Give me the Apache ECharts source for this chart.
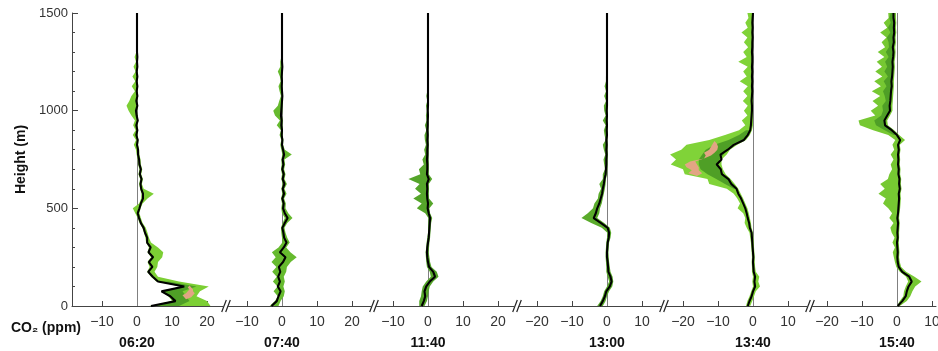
<!DOCTYPE html>
<html><head><meta charset="utf-8">
<script src="https://cdn.jsdelivr.net/npm/echarts@6/dist/echarts.min.js"></script>
<style>html,body{margin:0;padding:0;background:#fff}#c{width:938px;height:351px}</style>
</head><body><div id="c"></div>
<script>
// ---------------- DATA ----------------
const times = ['06:20', '07:40', '11:40', '13:00', '13:40', '15:40'];
const heights = [0,25,50,75,100,125,150,175,200,225,250,275,300,325,350,375,400,425,450,475,
  500,525,550,575,600,625,650,675,700,725,750,775,800,825,850,875,900,925,950,975,
  1000,1025,1050,1075,1100,1125,1150,1175,1200,1225,1250,1275,1300,1325,1350,1375,1400,1425,1450,1475,1500];
const yTicks = [0, 500, 1000, 1500];
const xTicks1 = [-10, 0, 10, 20];
const xTicks2 = [-10, 0, 10, 20];
const xTicks3 = [-10, 0, 10, 20];
const xTicks4 = [-20, -10, 0, 10];
const xTicks5 = [-20, -10, 0, 10];
const xTicks6 = [-20, -10, 0, 10];

// 06:20
const black1 = [4,11,9.5,7,13.5,6,4.5,3.2,4.4,3.4,4.6,3.3,3.9,2.9,2.9,2.3,1.9,1.1,0.6,0.2,
  0.7,1.1,1.7,1.7,1.2,1.0,1.3,0.8,1.1,0.7,0.6,0.3,0.3,0,0.2,-0.2,0.1,-0.2,0.2,-0.1,
  -0.3,0.1,-0.2,0.1,-0.1,0.1,-0.1,0.1,-0.1,0.1,0,0.1,0,0,0,0,0,0,0,0,0];
const lo1 = [3.5,10,9,6.8,12.5,5.5,4,2.9,3.6,3,4,3,3.4,2.6,2.4,2,1.5,0.7,0.2,-0.5,
  -1.2,0.6,1.2,1.3,0.9,0.6,0.9,0.4,0.7,0.3,0.2,-0.1,-0.3,-0.9,-0.3,-1.2,-0.4,-1.1,-0.6,-1.6,
  -2.4,-3,-2.2,-1.6,-0.6,-1.5,-0.5,-1.3,-0.4,-1,-0.3,-0.7,-0.2,0,0,0,0,0,0,0,0];
const hi1 = [21,20,17,18,20.5,12,6,5,5.8,6,7.2,7.5,6,4,3.4,3,2.5,1.6,1.1,0.7,
  1,1.6,3,4.8,1.9,1.4,1.7,1.2,1.5,1.1,1,0.7,0.6,0.3,0.4,0.1,0.3,0.1,0.4,0.1,
  0,0.3,0,0.3,0.1,0.3,0.1,0.3,0.1,0.3,0.2,0.3,0.1,0,0,0,0,0,0,0,0];
const inH1 = [0,25,50,75,100,125];
const inLo1 = [4,10.5,9.5,7.2,13,6];
const inHi1 = [12,15,14,13,17,9];
const pinkH1 = [35,45,55,65,75,85,95,105];
const pinkLo1 = [14,13.5,13,14,14.5,15,14.5,15];
const pinkHi1 = [14,15.5,16,16.5,16,16,15.5,15];

// 07:40
const black2 = [-3,-1.5,-1,-0.4,-1.2,-0.6,-1.1,-0.5,-0.9,0.3,1,-0.6,0.5,1.3,0.6,0.4,0.1,0.8,1.6,0.8,
  0.3,0.5,0.1,0.6,0.2,0.7,0.2,0.5,0.1,0.4,0.2,0.6,0.3,0,0.1,-0.1,0,-0.2,-0.1,-0.3,
  -0.2,-0.1,0,0.1,0,-0.1,0,-0.1,0,0.1,0,0,0,0,0,0,0,0,0,0,0];
const lo2 = [-3.5,-2,-1.2,-2.4,-1.3,-2.6,-1.5,-2.8,-1.6,-3,-1.8,-2.9,-1,0.1,0,-0.2,-0.3,0.2,0.8,0,
  -0.2,0,-0.3,0.1,-0.2,0.2,-0.2,0,-0.3,-0.1,-0.2,0.1,-0.2,-0.5,-0.2,-0.7,-0.3,-1.5,-0.6,-2,
  -2.5,-1.2,-0.8,-0.3,-0.7,-1,-0.4,-0.6,-1.2,-0.5,-0.5,-0.2,0,0,0,0,0,0,0,0,0];
const hi2 = [-1,-0.4,0.5,0.8,0.4,0.8,0.5,1.2,1.4,2.5,4.2,2.4,1.2,2.2,1.5,1,0.7,1.5,3,1.8,
  1,1.1,0.6,1.3,0.7,1.4,0.7,1,0.6,0.9,0.7,2.8,0.8,0.3,0.4,0.2,0.3,0.1,0.2,0,
  0.1,0.2,0.3,0.3,0.2,0.1,0.2,0.1,0.2,0.2,0.1,0.1,0,0,0,0,0,0,0,0,0];

// 11:40
const black3 = [-1.8,-1.2,-0.8,-1,-0.5,0.5,2,1.5,0.3,0,-0.2,-0.3,-0.2,0,0.2,0.3,0.4,0.5,0.6,0.2,
  -0.1,0,-0.2,-0.3,-0.2,-0.3,0.2,-0.3,-0.2,-0.2,-0.3,-0.2,-0.2,-0.1,-0.2,-0.1,-0.2,-0.1,-0.1,0,
  -0.1,0,0,0,0,0,0,0,0,0,0,0,0,0,0,0,0,0,0,0,0];
const lo3 = [-2.5,-2.5,-2,-1.8,-1.5,-0.5,0.8,0.5,-0.3,-0.5,-0.6,-0.7,-0.5,-0.4,-0.2,0,0,0.1,0.1,-0.8,
  -3.2,-1.8,-4.2,-2,-3.7,-2.4,-5.6,-2.2,-2.6,-1.2,-1.6,-0.8,-1.1,-0.6,-0.9,-1,-0.5,-0.9,-0.4,-0.6,
  -0.3,-0.6,-0.2,-0.5,-0.2,0,0,0,0,0,0,0,0,0,0,0,0,0,0,0,0];
const hi3 = [-1,-0.3,0,0.2,0.5,1.5,3,2.5,1,0.6,0.4,0.2,0.3,0.4,0.6,0.7,0.8,0.9,1.2,0.6,
  0.4,1.5,0.3,0.2,0.3,0.2,1.2,0.2,0.2,0.2,0.1,0.1,0.1,0.2,0.1,0.1,0.1,0.1,0.1,0.2,
  0.1,0.1,0.1,0.1,0.1,0,0,0,0,0,0,0,0,0,0,0,0,0,0,0,0];

// 13:00
const black4 = [-2,-1.2,-0.6,-0.2,0.8,1.3,1,0.4,0.3,0.2,0,0,0.1,0.2,0.5,0.6,0.2,-1.8,-3.8,-3.2,
  -2.8,-2.2,-1.8,-1.4,-1.2,-0.9,-0.7,-0.4,-0.3,-0.2,-0.2,-0.1,-0.2,-0.1,-0.2,0,-0.1,0,-0.1,0,
  -0.1,0,0,0,0,0,0,0,0,0,0,0,0,0,0,0,0,0,0,0,0];
const lo4 = [-2.8,-1.8,-1.2,-0.8,0,0.6,0.2,-0.2,-0.2,-0.3,-0.4,-0.4,-0.3,-0.2,0,0.1,-1.5,-4.5,-7.3,-5.5,
  -4,-3.6,-2.6,-2.4,-1.7,-2.2,-1.2,-1.2,-0.6,-0.8,-1,-0.5,-0.9,-1.2,-0.4,-0.7,-0.9,-0.4,-1.2,-0.4,
  -0.8,-0.9,-0.3,-0.8,-0.3,-0.7,-0.3,-0.3,0,0,0,0,0,0,0,0,0,0,0,0,0];
const hi4 = [-1.2,-0.4,0,0.6,1.5,1.8,1.6,1,0.8,0.6,0.5,0.4,0.5,0.6,1,1.2,0.8,-0.8,-2.8,-2.2,
  -2,-1.5,-1.2,-0.9,-0.6,-0.4,-0.3,0,0.1,0.1,0.1,0.2,0.1,0.1,0.1,0.2,0.1,0.1,0.1,0.1,
  0.1,0.1,0.1,0.1,0.1,0.1,0,0,0,0,0,0,0,0,0,0,0,0,0,0,0];

// 13:40
const black5 = [-1.5,-1,-0.4,0,0.6,0.4,0.6,0.2,0.1,0,0.1,0,-0.1,-0.2,-0.3,-0.4,-0.9,-1.1,-1.5,-1.8,
  -2.2,-2.8,-3.4,-4.2,-4.7,-6.2,-7,-8.9,-9.2,-10.4,-9,-9.3,-7.2,-5.5,-2.6,-1.5,-0.8,-0.6,-0.5,-0.4,
  -0.3,-0.3,-0.4,-0.3,-0.2,-0.3,-0.2,-0.3,-0.2,-0.3,-0.2,-0.2,-0.3,-0.2,-0.2,-0.1,-0.2,-0.1,-0.2,-0.1,0];
const lo5 = [-2,-1.6,-1,-0.5,0,-0.2,0,-0.3,-0.3,-0.4,-0.3,-0.4,-0.5,-0.6,-0.8,-1,-1.8,-2.4,-2.2,-2.8,
  -4.4,-3.7,-4.5,-5.5,-7.5,-12.5,-13,-19.5,-20,-23.5,-22,-23.7,-20.5,-19,-12.5,-8,-4,-2.2,-3.2,-1.6,
  -2.6,-1.5,-2.9,-1.6,-2.8,-1.5,-3.8,-1.8,-2.8,-1.5,-4.2,-1.8,-2.8,-1.4,-2.6,-1.6,-3.3,-1.5,-2.2,-1.3,-1.6];
const hi5 = [-0.8,-0.2,0.3,0.8,2,1.5,1.8,0.8,0.6,0.5,0.5,0.4,0.3,0.2,0.1,0,-0.4,-0.6,-0.9,-1.2,
  -1.6,-2.2,-2.8,-3.5,-4.2,-5.2,-6.4,-7.8,-8.6,-9,-9,-7.5,-6.6,-4.5,-2,-0.9,-0.3,0,0,0,
  0,0,0,0,0,0,0,0,0,0,0,0,0,0,0,0,0,0,0,0,0];
const inH5 = [600,625,650,675,700,725,750,775,800,825,850,875,900];
const inLo5 = [-5.5,-8,-10.5,-13,-15,-15.5,-15.5,-14.5,-13.5,-11,-7,-4,-2];
const inHi5 = [-4.6,-5.6,-7,-8.5,-9.3,-9.8,-9.6,-8.4,-7.5,-5.5,-3,-1.5,-1];
const pinkH5 = [665,680,695,710,725,740,755,770,785,800,815,830,845];
const pinkLo5 = [-16,-18.5,-17.5,-19,-19.5,-18,-14,-13.5,-14,-12.5,-12,-11.5,-11];
const pinkHi5 = [-16,-14.5,-15.5,-15.5,-16,-16.5,-14,-12,-11,-10.2,-10,-10.3,-11];

// 15:40
const black6 = [0.2,1.5,2.5,2.8,3.3,4.2,3.5,1.5,0.5,0.2,0.1,0.2,0.1,0,0.2,0.1,0.2,0.3,0.1,0.3,
  0.4,0.5,0.6,0.5,0.8,0.6,0.7,0.4,0.5,0.3,0.4,0.3,0.5,0.3,0.9,0,-1.5,-3.4,-3.6,-2.8,
  -2,-2.1,-1.9,-1.8,-1.7,-1.5,-1.6,-1.4,-1.3,-1.2,-1.3,-1.1,-1,-1.2,-0.9,-1,-0.8,-0.9,-0.8,-1,-1];
const lo6 = [0,0.8,1.8,2,2.5,3.2,2.6,0.8,-0.2,-0.6,-0.9,-1.2,-0.6,-1.3,-0.7,-1.5,-1.9,-1,-2.2,-1.4,
  -2.5,-4,-3.2,-5.3,-3.5,-4.8,-2.6,-2.2,-1.4,-1.8,-1,-1.8,-0.8,-1.3,-0.5,-2.5,-6.8,-10.6,-11,-6.2,
  -7.5,-5.4,-7,-4.8,-7.2,-4.6,-6.5,-4.2,-6.2,-4.3,-5.8,-3.6,-5.5,-3.4,-4.4,-3,-4.8,-2.8,-3.8,-2.4,-2.5];
const hi6 = [0.8,2.8,3.8,4.4,5.2,7,5,2.6,1.2,0.8,0.6,0.7,0.6,0.5,0.6,0.6,0.7,0.8,0.6,0.7,
  0.9,1,1.1,1,1.3,1.1,1.2,0.9,1,0.8,0.9,0.8,1,0.8,2.3,0.6,-0.8,-2.6,-2.8,-2,
  -1.3,-1.3,-1.2,-1.1,-1,-0.9,-0.9,-0.8,-0.7,-0.6,-0.7,-0.5,-0.4,-0.5,-0.3,-0.4,-0.2,-0.3,-0.2,-0.3,-0.3];
const inH6 = [875,900,925,950,975,1000,1025,1050,1075,1100,1125,1150,1175,1200,1225,1250,1275,1300,1325,1350,1375,1400,1425,1450,1475,1500];
const inLo6 = [-1,-3.5,-6,-6.5,-4.5,-4,-4.2,-3.2,-3.5,-4,-3,-3.8,-2.6,-3.6,-2.8,-3.4,-2.4,-3.2,-2.3,-2.4,-2.9,-1.9,-2.6,-1.8,-2.2,-1.8];
const inHi6 = [0,-1.5,-3.4,-3.6,-2.8,-2,-2.1,-1.9,-1.8,-1.7,-1.5,-1.6,-1.4,-1.3,-1.2,-1.3,-1.1,-1,-1.2,-0.9,-1,-0.8,-0.9,-0.8,-1,-1];

// ---------------- LAYOUT / STYLE ----------------
const FONT = 'Liberation Sans, Arial, Helvetica, sans-serif';
const gridTop = 13, gridBottom = 45;
const panelLayout = [
  {left: 72,    right: 223.5, zero: 137},
  {left: 228.5, right: 371.5, zero: 282},
  {left: 376.5, right: 514.5, zero: 428},
  {left: 519.5, right: 661.5, zero: 607},
  {left: 666.5, right: 807.5, zero: 753},
  {left: 812.5, right: 936,   zero: 897}
];
const pxPerUnit = 3.5;
const xTicks = [xTicks1, xTicks2, xTicks3, xTicks4, xTicks5, xTicks6];
const blacks = [black1, black2, black3, black4, black5, black6];
const los = [lo1, lo2, lo3, lo4, lo5, lo6];
const his = [hi1, hi2, hi3, hi4, hi5, hi6];
const bandColors = ['#7ccf34', '#66ba2e', '#55a52a', '#5aab2b', '#80d338', '#76c832'];
const innerColor = '#4f9f26';
const pinkColor = '#e2a584';
const inners = [
  {idx: 0, H: inH1, lo: inLo1, hi: inHi1},
  {idx: 4, H: inH5, lo: inLo5, hi: inHi5},
  {idx: 5, H: inH6, lo: inLo6, hi: inHi6}
];
const pinks = [
  {idx: 0, H: pinkH1, lo: pinkLo1, hi: pinkHi1},
  {idx: 4, H: pinkH5, lo: pinkLo5, hi: pinkHi5}
];

function fmt(v) { return v < 0 ? '\u2212' + Math.abs(v) : String(v); }

function bandSeries(idx, H, lo, hi, color, z) {
  return {
    type: 'custom', xAxisIndex: idx, yAxisIndex: idx, z: z, silent: true, animation: false,
    data: H.map((h, i) => [lo[i], hi[i], h]),
    encode: {x: [0, 1], y: 2},
    renderItem: function (params, api) {
      if (params.dataIndex !== 0) return null;
      const pts = [];
      for (let i = 0; i < H.length; i++) pts.push(api.coord([hi[i], H[i]]));
      for (let i = H.length - 1; i >= 0; i--) pts.push(api.coord([lo[i], H[i]]));
      return {type: 'polygon', shape: {points: pts}, style: {fill: color}};
    }
  };
}

const grids = [], xAxes = [], yAxes = [], series = [];
panelLayout.forEach((p, i) => {
  grids.push({left: p.left, width: p.right - p.left, top: gridTop, bottom: gridBottom,
    containLabel: false, outerBoundsMode: 'none'});
  xAxes.push({
    type: 'value', gridIndex: i,
    min: (p.left - p.zero) / pxPerUnit, max: (p.right - p.zero) / pxPerUnit,
    axisLine: {show: true, onZero: false, lineStyle: {color: '#444', width: 1}},
    axisTick: {show: true, inside: true, length: 5, customValues: xTicks[i], lineStyle: {color: '#444'}},
    axisLabel: {customValues: xTicks[i], formatter: fmt, color: '#333', fontSize: 14, fontFamily: FONT, margin: 9},
    splitLine: {show: false}
  });
  yAxes.push({
    type: 'value', gridIndex: i, min: 0, max: 1500, interval: 500, show: i === 0,
    axisLine: {show: true, onZero: false, lineStyle: {color: '#444', width: 1}},
    axisTick: {show: true, inside: true, length: 6, lineStyle: {color: '#444'}},
    minorTick: {show: true, splitNumber: 5, length: 3, lineStyle: {color: '#444'}},
    axisLabel: {color: '#333', fontSize: 13, fontFamily: FONT, margin: 4, customValues: yTicks,
      formatter: v => String(v)},
    splitLine: {show: false},
    name: i === 0 ? 'Height (m)' : '', nameLocation: 'middle', nameGap: 44, nameRotate: 90,
    nameTextStyle: {fontWeight: 'bold', fontSize: 14, color: '#111', fontFamily: FONT}
  });
  series.push(bandSeries(i, heights, los[i], his[i], bandColors[i], 2));
  series.push({
    type: 'line', xAxisIndex: i, yAxisIndex: i, z: 5, silent: true, animation: false,
    data: heights.map((h, k) => [blacks[i][k], h]),
    showSymbol: false, symbol: 'none',
    lineStyle: {color: '#000', width: 2.1},
    markLine: {silent: true, symbol: 'none', z: 1, animation: false, label: {show: false},
      lineStyle: {color: '#808080', width: 1, type: 'solid'}, data: [{xAxis: 0}]}
  });
});
inners.forEach(b => series.push(bandSeries(b.idx, b.H, b.lo, b.hi, innerColor, 3)));
pinks.forEach(b => series.push(bandSeries(b.idx, b.H, b.lo, b.hi, pinkColor, 4)));

const chart = echarts.init(document.getElementById('c'), null, {renderer: 'canvas'});
chart.setOption({
  animation: false, backgroundColor: '#fff',
  grid: grids, xAxis: xAxes, yAxis: yAxes, series: series
});

const graphics = [];
times.forEach((t, i) => {
  const px = chart.convertToPixel({xAxisIndex: i}, 0);
  graphics.push({type: 'text', x: px, y: 343, style: {text: t, fontSize: 14, fontWeight: 'bold',
    fontFamily: FONT, fill: '#111', align: 'center', verticalAlign: 'middle'}});
});
graphics.push({type: 'text', x: 11, y: 328, style: {text: 'CO\u2082 (ppm)', fontSize: 14, fontWeight: 'bold',
  fontFamily: FONT, fill: '#111', align: 'left', verticalAlign: 'middle'}});
const axisY = 351 - gridBottom;
for (let i = 0; i < panelLayout.length - 1; i++) {
  const cx = (panelLayout[i].right + panelLayout[i + 1].left) / 2;
  [-2, 2].forEach(d => graphics.push({type: 'line', shape: {x1: cx + d - 2.3, y1: axisY + 6, x2: cx + d + 2.3, y2: axisY - 6},
    style: {stroke: '#222', lineWidth: 1.2}}));
}
chart.setOption({graphic: graphics});
</script>
</body></html>
